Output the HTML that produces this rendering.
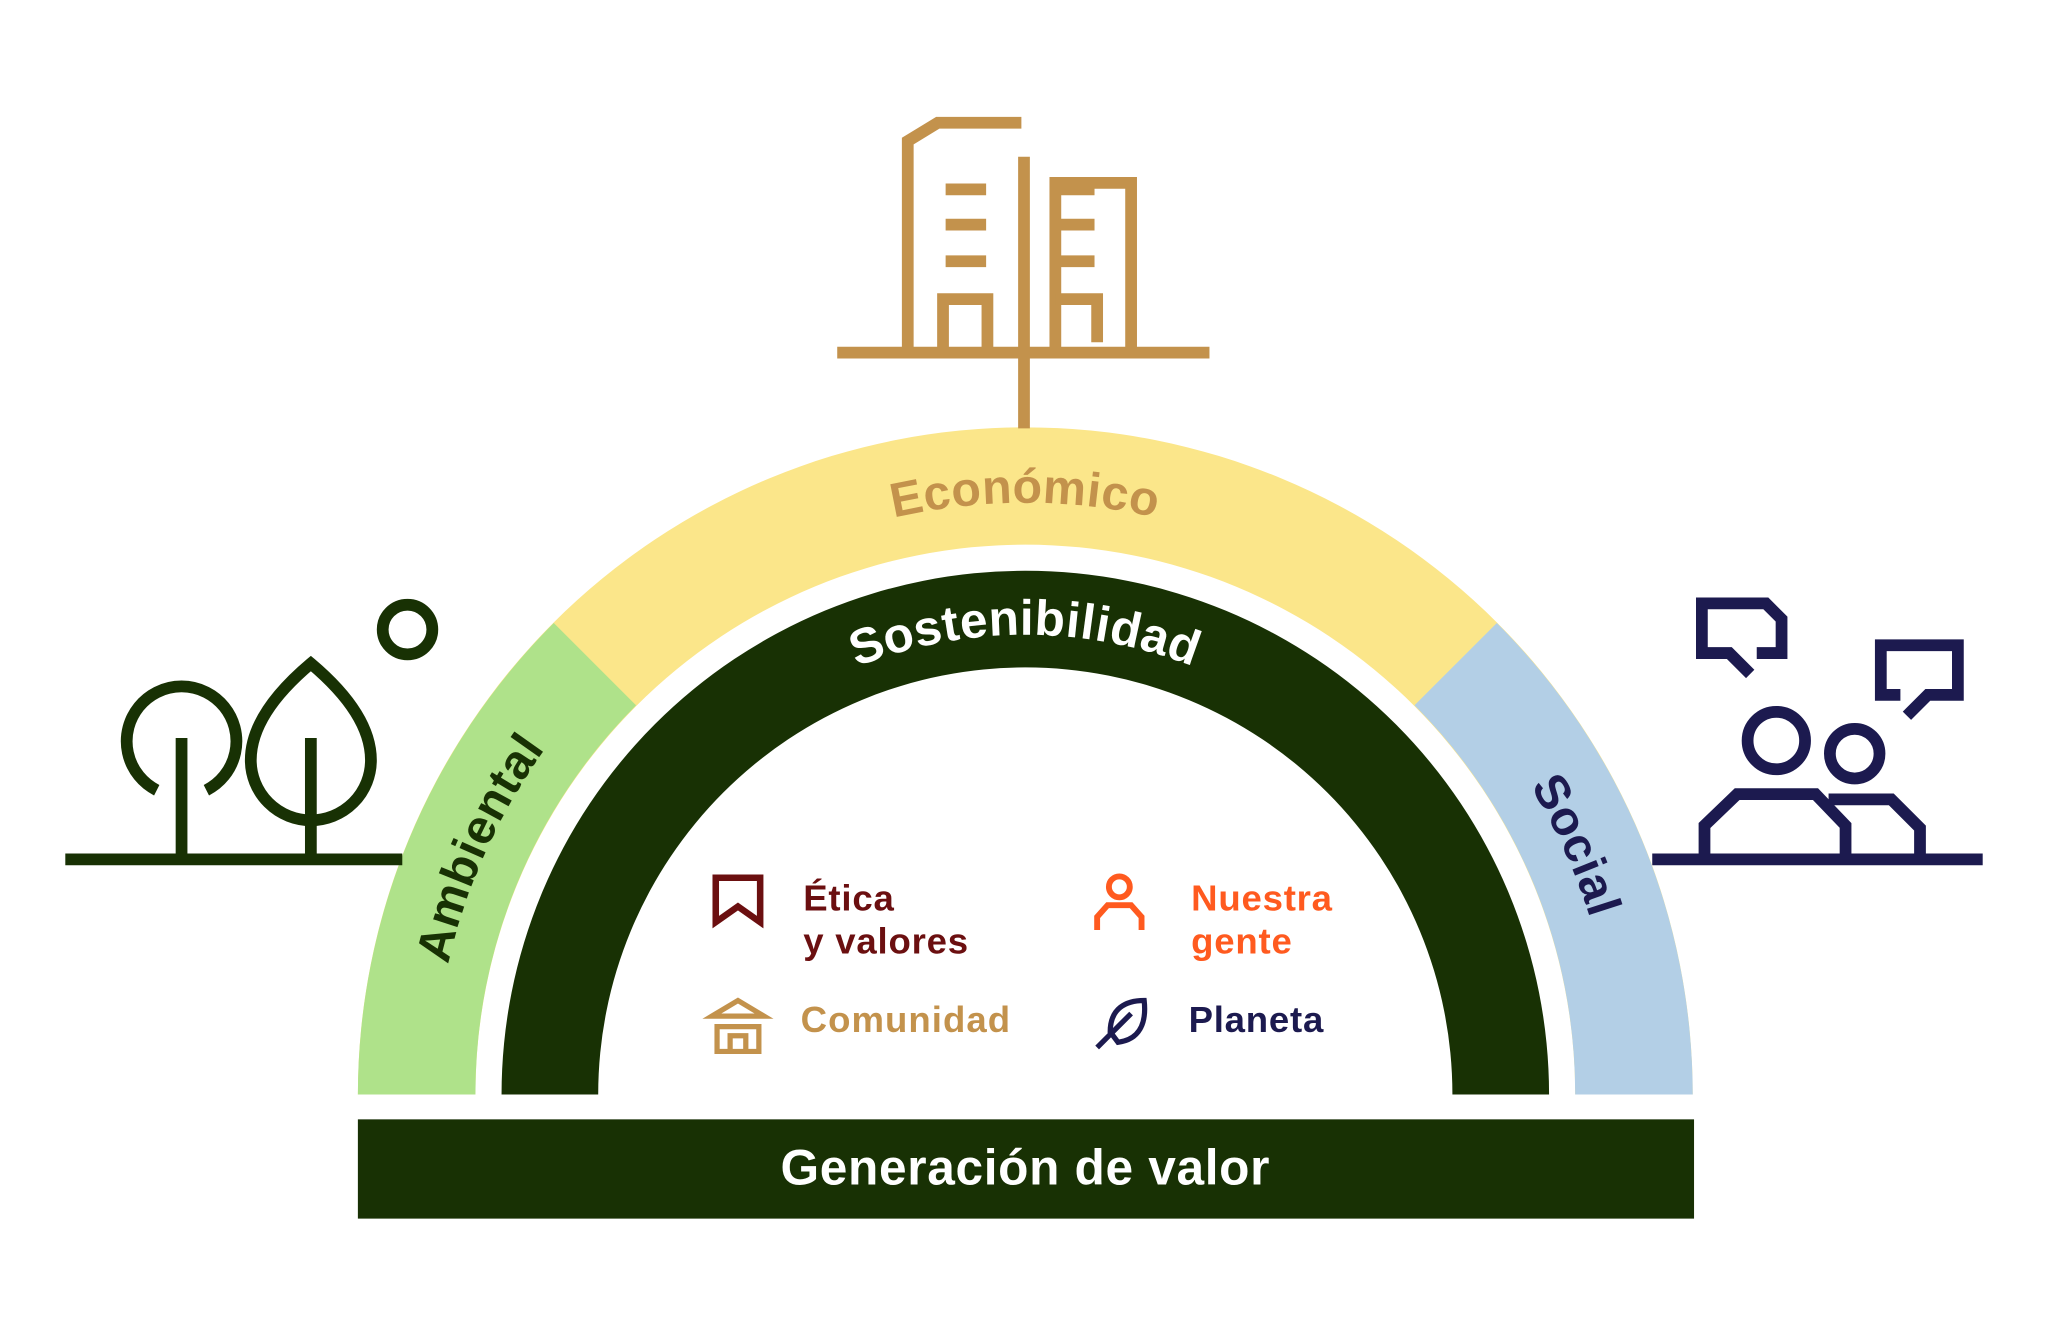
<!DOCTYPE html>
<html><head><meta charset="utf-8"><style>
html,body{margin:0;padding:0;background:#fff}
svg{display:block}
text{font-family:"Liberation Sans",sans-serif;font-weight:bold}
</style></head><body>
<svg width="2048" height="1325" viewBox="0 0 1568 1014.45" xmlns="http://www.w3.org/2000/svg">
<defs>
<path id="outerArc" d="M 319 838 A 466 466 0 0 1 1251 838"/>
<path id="innerArc" d="M 420 838 A 365 365 0 0 1 1150 838"/>
</defs>
<path d="M274 838 A511 511 0 0 1 1296 838 L1206 838 A421 421 0 0 0 364 838 Z" fill="#fbe68a"/>
<path d="M274 838 A511 511 0 0 1 424 477 L487 540 A421 421 0 0 0 364 838 Z" fill="#afe28a"/>
<path d="M1296 838 A511 511 0 0 0 1146 477 L1083 540 A421 421 0 0 1 1206 838 Z" fill="#b3cfe6"/>
<path d="M384 838 A401 401 0 0 1 1186 838 L1112 838 A327 327 0 0 0 458 838 Z" fill="#183104"/>
<text font-size="37" fill="#c3924c" text-anchor="middle" dy="13" letter-spacing="1"><textPath href="#outerArc" startOffset="50%">Económico</textPath></text>
<text font-size="37" fill="#183104" text-anchor="middle" dy="13" letter-spacing="1"><textPath href="#outerArc" startOffset="13.5%">Ambiental</textPath></text>
<text font-size="37" fill="#1c1a4f" text-anchor="middle" dy="13" letter-spacing="1"><textPath href="#outerArc" startOffset="86.5%">Social</textPath></text>
<text font-size="38" fill="#fff" text-anchor="middle" dy="13" letter-spacing="1"><textPath href="#innerArc" startOffset="50%">Sostenibilidad</textPath></text>
<rect x="274" y="857" width="1023" height="76" fill="#183104"/>
<text x="785" y="907" font-size="38" fill="#fff" text-anchor="middle" letter-spacing="0.5">Generación de valor</text>
<g stroke="#c3924c" stroke-width="9" fill="none">
<path d="M641 270 H926 M784 270 V328"/>
<path d="M695 268 V108 L718 94 H782"/>
<path d="M784 120 V268"/>
<path d="M808 268 V140 H866 V268"/>
<path d="M722 268 V229 H756 V268"/>
<path d="M808 229 H840 V262"/>
<path d="M724 145 H755 M724 172 H755 M724 200 H755 M806 145 H838 M806 172 H838 M806 200 H838"/>
</g>
<g stroke="#183104" stroke-width="9" fill="none">
<path d="M50 658 H308"/>
<path d="M120 605 A42 42 0 1 1 158 605"/>
<path d="M139 565 V658"/>
<path d="M238 508 C200 540 192 565 192 582 A46 46 0 0 0 284 582 C284 565 276 540 238 508 Z"/>
<path d="M238 565 V658"/>
<circle cx="312" cy="482" r="19"/>
</g>
<g stroke="#1c1a4f" stroke-width="9" fill="none">
<path d="M1265 658 H1518"/>
<circle cx="1360" cy="567" r="22"/>
<circle cx="1420" cy="577" r="19"/>
<path d="M1305 658 V632 L1330 608 H1390 L1413 632 V658"/>
<path d="M1400 612 H1448 L1470 634 V658"/>
<path d="M1340 516 L1324 500 H1303 V462 H1352 L1364 474 V500 H1345"/>
<path d="M1460 548 L1476 532 H1499 V494 H1440 V532 H1455"/>
</g>
<path d="M548 672 H582 V706 L565 694 L548 706 Z" fill="none" stroke="#6b0f10" stroke-width="5"/>
<text x="615" y="697" font-size="28" fill="#6b0f10" letter-spacing="0.6">Ética</text>
<text x="615" y="730" font-size="28" fill="#6b0f10" letter-spacing="0.6">y valores</text>
<g stroke="#ff5a1f" stroke-width="4.5" fill="none">
<circle cx="857" cy="679" r="8"/>
<path d="M840 712 V702 L848 693 H866 L874 702 V712"/>
</g>
<text x="912" y="697" font-size="28" fill="#ff5a1f" letter-spacing="0.6">Nuestra</text>
<text x="912" y="730" font-size="28" fill="#ff5a1f" letter-spacing="0.6">gente</text>
<g stroke="#c3924c" stroke-width="4" fill="none">
<path d="M545 778 L565 766 L585 778 Z"/>
<path d="M547 786 H583 M549 786 V805 H581 V786 M559 805 V793 H571 V805"/>
</g>
<text x="613" y="790" font-size="28" fill="#c3924c" letter-spacing="0.8">Comunidad</text>
<g stroke="#1c1a4f" stroke-width="4" fill="none">
<path d="M850 790 C850 772 862 766 876 766 C878 784 872 796 856 798 Z"/>
<path d="M840 802 L866 776"/>
</g>
<text x="910" y="790" font-size="28" fill="#1c1a4f" letter-spacing="0.6">Planeta</text>
</svg>
</body></html>
